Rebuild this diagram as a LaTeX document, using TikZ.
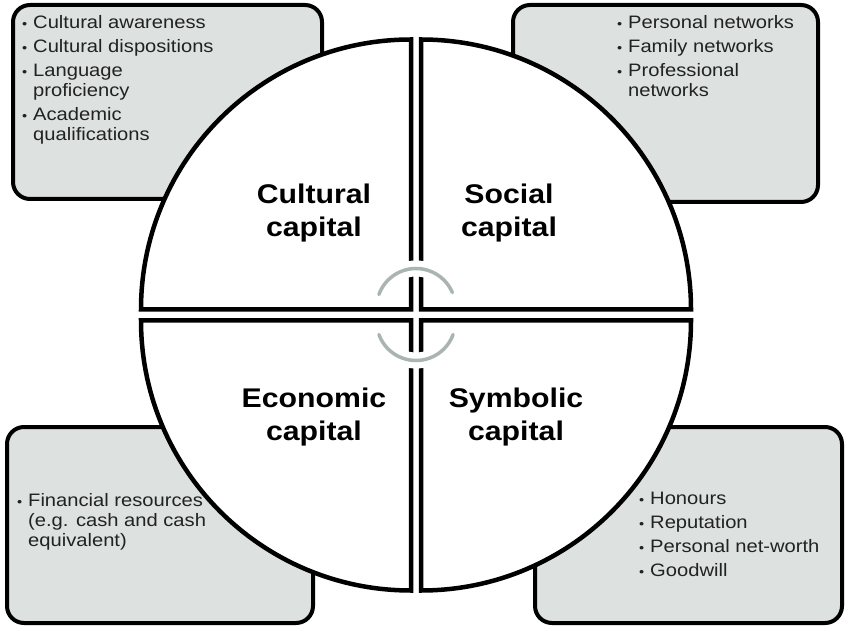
\documentclass[tikz,border=0pt]{standalone}
\usepackage{fontspec}
\setmainfont{Liberation Sans}[FakeStretch=1.12]
\definecolor{boxfill}{RGB}{221,225,224}
\definecolor{arcgray}{RGB}{170,180,178}
\definecolor{txtgray}{RGB}{34,34,34}
\newcommand\bul{\makebox[11pt][l]{{\fontsize{13}{13}\selectfont\textbullet}}}
\newcommand\ind{\hspace*{11pt}}
\tikzset{
  infobox/.style={draw=black, line width=4pt, fill=boxfill, rounded corners=17pt},
  quad/.style={draw=black, line width=4.5pt, fill=white},
  listtext/.style={font=\fontsize{18}{20}\selectfont, align=left, inner sep=0pt, anchor=north west, text=txtgray},
  title/.style={font=\bfseries\fontsize{27}{33}\selectfont, align=center, inner sep=0pt, text=black},
  halo/.style={draw=white, line width=16pt},
  cyc/.style={draw=arcgray, line width=3.5pt, line cap=round}
}
\begin{document}
\begin{tikzpicture}[x=1pt,y=1pt]
\useasboundingbox (0,0) rectangle (850,632);
% corner boxes
\draw[infobox] (13,433) rectangle (322,627);
\draw[infobox] (513,430) rectangle (818,627);
\draw[infobox] (7,9) rectangle (313,205);
\draw[infobox] (535,9) rectangle (842,205);
% quadrants
\draw[quad] (411,322.5) -- (141,322.5) arc[start angle=180, end angle=90, radius=270] -- cycle;
\draw[quad] (421,322.5) -- (421,592.5) arc[start angle=90, end angle=0, radius=270] -- cycle;
\draw[quad] (411,311.5) -- (411,41.5) arc[start angle=270, end angle=180, radius=270] -- cycle;
\draw[quad] (421,311.5) -- (691,311.5) arc[start angle=0, end angle=-90, radius=270] -- cycle;
% cycle arcs
\coordinate (topc) at (416,324);
\coordinate (botc) at (416,311);
\draw[halo] ([shift={(23:39.5)}]topc) arc[start angle=23, end angle=160, radius=39.5];
\draw[cyc] ([shift={(23:39.5)}]topc) arc[start angle=23, end angle=160, radius=39.5];
\draw[halo] ([shift={(200:39.5)}]botc) arc[start angle=200, end angle=340, radius=39.5];
\draw[cyc] ([shift={(200:39.5)}]botc) arc[start angle=200, end angle=340, radius=39.5];
% titles
\node[title] (cult) at (314,419) {Cultural\\capital};
\node[title] (soc) at (509,419) {Social\\capital};
\node[title] (econ) at (314,215) {Economic\\capital};
\node[title] (symb) at (516,215) {Symbolic\\capital};
% lists
\node[listtext] (cultlist) at (22,616.5) {\bul Cultural awareness\\[4pt]\bul Cultural dispositions\\[4pt]\bul Language\\\ind proficiency\\[4pt]\bul Academic\\\ind qualifications};
\node[listtext] (soclist) at (617,616.5) {\bul Personal networks\\[4pt]\bul Family networks\\[4pt]\bul Professional\\\ind networks};
\node[listtext] (econlist) at (17,138.5) {\bul Financial resources\\\ind (e.g. cash and cash\\\ind equivalent)};
\node[listtext] (symblist) at (639,140.5) {\bul Honours\\[4pt]\bul Reputation\\[4pt]\bul Personal net-worth\\[4pt]\bul Goodwill};
\end{tikzpicture}
\end{document}
